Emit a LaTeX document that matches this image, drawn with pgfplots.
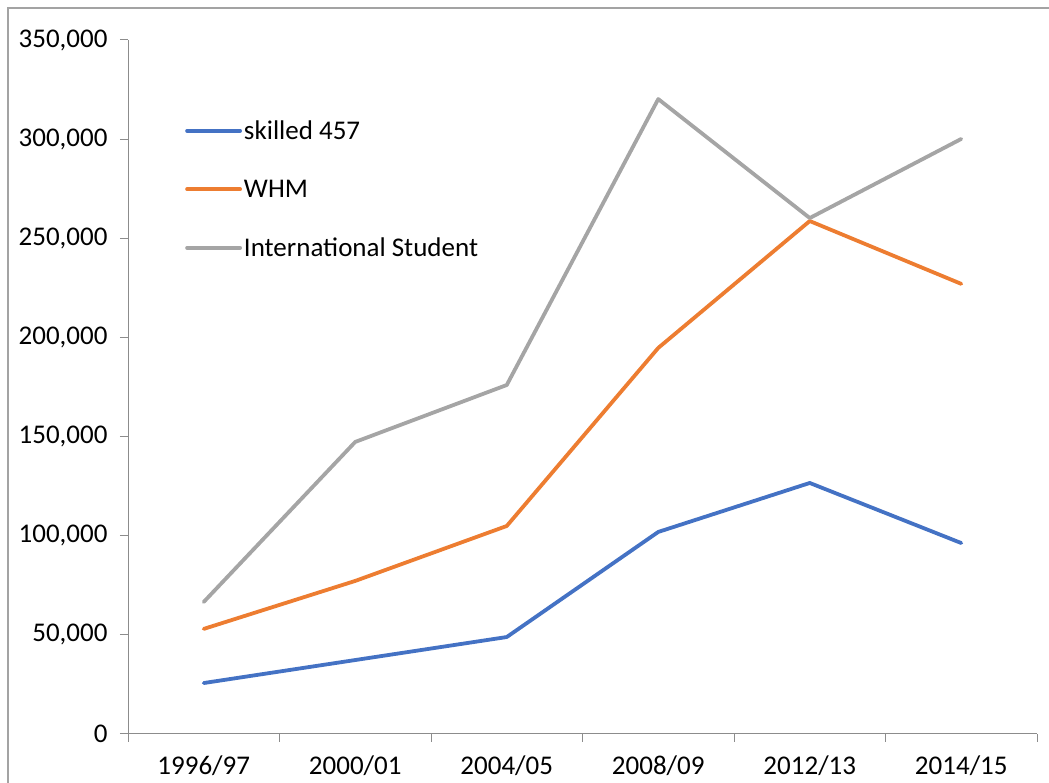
\documentclass[border=0pt]{standalone}
\usepackage{fontspec}
\setmainfont{Carlito}
\usepackage{pgfplots}
\pgfplotsset{compat=1.18}
\definecolor{cblue}{HTML}{4472C4}
\definecolor{corange}{HTML}{ED7D31}
\definecolor{cgray}{HTML}{A5A5A5}
\definecolor{axisgray}{HTML}{8C8C8C}

\begin{document}
\begin{tikzpicture}[x=1bp,y=1bp]
\useasboundingbox (0,0) rectangle (1049,783);
% chart area frame (runs off the right and bottom)
\draw[axisgray!80, line width=1.2bp] (8,-20) -- (8,775) -- (1080,775);
\begin{axis}[
  at={(128bp,49bp)}, anchor=south west,
  scale only axis, width=909bp, height=694bp,
  xmin=-0.5, xmax=5.5, ymin=0, ymax=350000,
  axis lines*=left,
  axis line style={axisgray, line width=1bp},
  tick align=outside,
  major tick length=8bp,
  tick style={axisgray, line width=1bp},
  xtick={-0.5,0.5,...,5.5}, xticklabels={},
  extra x ticks={0,1,2,3,4,5},
  extra x tick labels={1996/97,2000/01,2004/05,2008/09,2012/13,2014/15},
  extra x tick style={major tick length=0pt},
  ytick={0,50000,...,350000},
  scaled y ticks=false,
  /pgf/number format/.cd, fixed, 1000 sep={,}, assume math mode=true,
  /pgfplots/.cd,
  ticklabel style={font=\fontsize{27bp}{32bp}\selectfont, text=black},
  yticklabel style={xshift=-9bp},
  xticklabel style={yshift=-18bp},
  legend cell align=left,
  legend style={draw=none, fill=none, at={(0.0627,0.887)}, anchor=north west,
    font=\fontsize{27bp}{32bp}\selectfont, row sep=35bp, inner sep=0pt,
    nodes={inner sep=2bp}},
  legend image code/.code={\draw[#1] (0bp,0bp) -- (53bp,0bp);},
  every axis plot/.append style={line width=3.8bp, line cap=round, line join=round},
]
\addplot[cblue] coordinates {(0,25700) (1,37300) (2,48900) (3,101900) (4,126600) (5,96300)};
\addlegendentry{skilled 457}
\addplot[corange] coordinates {(0,53000) (1,77200) (2,104900) (3,194700) (4,258700) (5,227000)};
\addlegendentry{WHM}
\addplot[cgray] coordinates {(0,66600) (1,147300) (2,176000) (3,320200) (4,260200) (5,300100)};
\addlegendentry{International Student}
\end{axis}
\end{tikzpicture}
\end{document}
